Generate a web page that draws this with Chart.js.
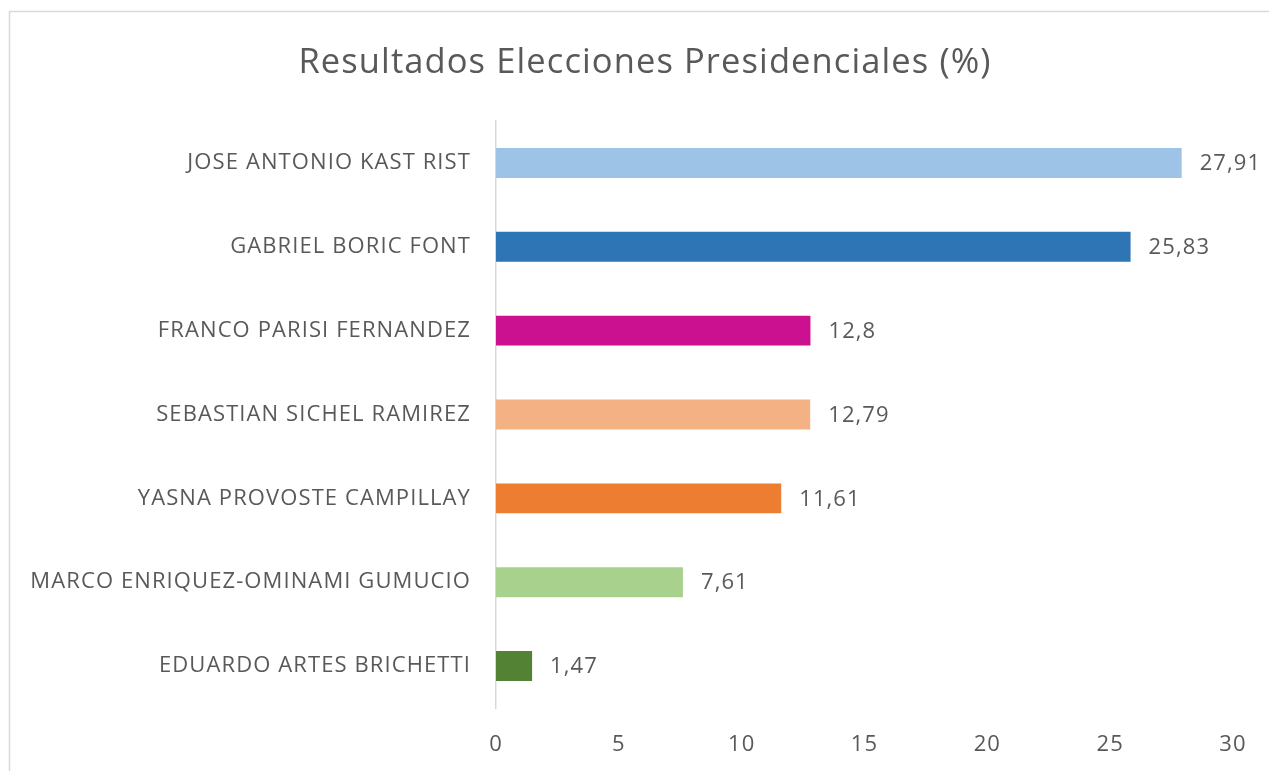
<!DOCTYPE html>
<html>
<head>
<meta charset="utf-8">
<script src="https://cdn.jsdelivr.net/npm/chart.js@4"></script>
<style>
  html, body { margin: 0; padding: 0; background: #fff; }
  #wrap { width: 1269px; height: 771px; }
</style>
</head>
<body>
<div id="wrap"><canvas id="barChart" width="1269" height="771"></canvas></div>
<script>
var titulo = "Resultados Elecciones Presidenciales (%)";
var candidatos = ["JOSE ANTONIO KAST RIST", "GABRIEL BORIC FONT", "FRANCO PARISI FERNANDEZ",
  "SEBASTIAN SICHEL RAMIREZ", "YASNA PROVOSTE CAMPILLAY", "MARCO ENRIQUEZ-OMINAMI GUMUCIO",
  "EDUARDO ARTES BRICHETTI"];
var porcentajes = [27.91, 25.83, 12.8, 12.79, 11.61, 7.61, 1.47];
var colores = ["#9DC3E6", "#2E75B6", "#CC1190", "#F4B183", "#ED7D31", "#A9D18E", "#548235"];
var ticksX = [0, 5, 10, 15, 20, 25, 30];

var gris = "#595959";
var fuente = "'Open Sans', sans-serif";

// marco gris, titulo y letras un poco mas separadas (como en Excel)
var marco = {
  id: 'marco',
  beforeDraw: function(chart) {
    var ctx = chart.ctx;
    ctx.letterSpacing = "1.1px";
    ctx.save();
    ctx.strokeStyle = "#d9d9d9";
    ctx.lineWidth = 1.5;
    ctx.strokeRect(9.5, 11.5, 1400, 900);
    ctx.font = "34.5px " + fuente;
    ctx.fillStyle = gris;
    ctx.textAlign = "center";
    ctx.textBaseline = "middle";
    ctx.fillText(titulo, 645, 63);
    ctx.restore();
  }
};

// etiquetas de valor al final de cada barra
var etiquetas = {
  id: 'etiquetas',
  afterDatasetsDraw: function(chart) {
    var ctx = chart.ctx;
    var meta = chart.getDatasetMeta(0);
    ctx.save();
    ctx.font = "22px " + fuente;
    ctx.fillStyle = gris;
    ctx.textAlign = "left";
    ctx.textBaseline = "middle";
    meta.data.forEach(function(bar, i) {
      var txt = String(porcentajes[i]).replace('.', ',');
      ctx.fillText(txt, bar.x + 18, bar.y + 1);
    });
    ctx.restore();
  }
};

var ctx = document.getElementById("barChart").getContext('2d');
var myBarChart = new Chart(ctx, {
  type: 'bar',
  data: {
    labels: candidatos,
    datasets: [{
      data: porcentajes,
      backgroundColor: colores,
      barPercentage: 0.357,
      categoryPercentage: 1
    }]
  },
  options: {
    indexAxis: 'y',
    responsive: false,
    animation: false,
    layout: { padding: { left: 10, right: 36, top: 121, bottom: 0 } },
    plugins: {
      legend: { display: false },
      tooltip: { enabled: false },
      title: { display: false }
    },
    scales: {
      x: {
        min: 0,
        max: 30,
        afterBuildTicks: function(scale) {
          scale.ticks = ticksX.map(function(v) { return { value: v }; });
        },
        afterFit: function(scale) { scale.height = 63; },
        grid: { display: false },
        border: { display: false },
        ticks: { color: gris, padding: 16, font: { family: fuente, size: 22 } }
      },
      y: {
        afterFit: function(scale) { scale.width = 486; },
        grid: { display: false },
        border: { display: true, color: "#d9d9d9", width: 1.5 },
        ticks: { color: gris, padding: 17, font: { family: fuente, size: 22 } }
      }
    }
  },
  plugins: [marco, etiquetas]
});
</script>
</body>
</html>
